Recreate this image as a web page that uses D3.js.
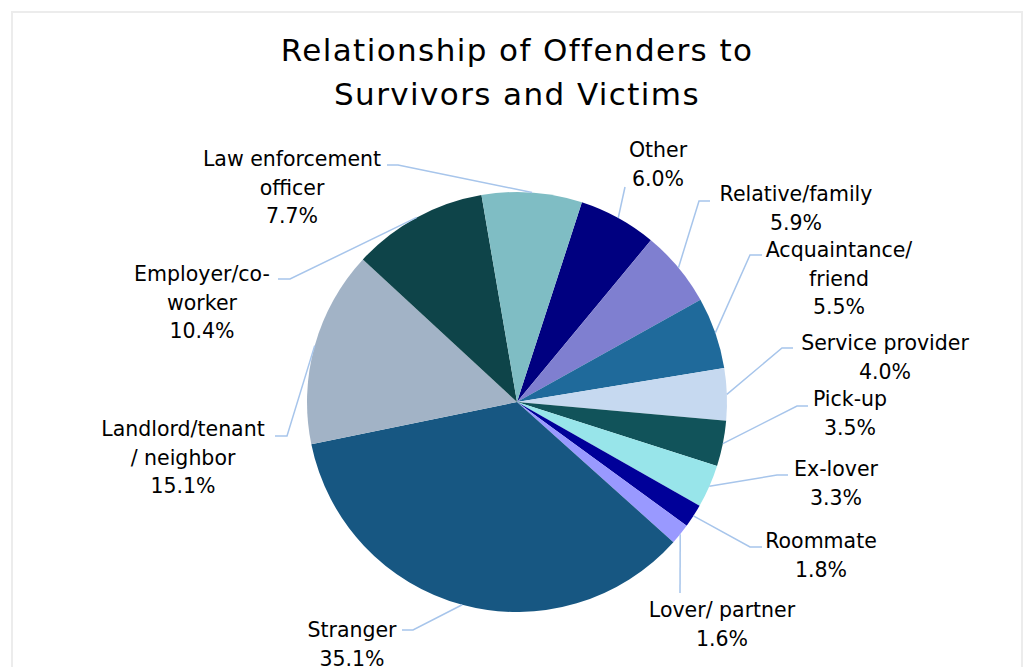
<!DOCTYPE html>
<html>
<head>
<meta charset="utf-8">
<script src="https://cdn.jsdelivr.net/npm/d3@7"></script>
<style>
  html, body { margin: 0; padding: 0; background: #fff; }
  svg { display: block; }
  .title { font-family: "DejaVu Sans", sans-serif; font-size: 31px; letter-spacing: 1.4px; fill: #000; }
  .lbl { font-family: "DejaVu Sans", sans-serif; font-size: 20.5px; fill: #000; }
</style>
</head>
<body>
<svg id="chart"></svg>
<script>
const categories = ["Other", "Relative/family", "Acquaintance/ friend", "Service provider", "Pick-up", "Ex-lover",
  "Roommate", "Lover/ partner", "Stranger", "Landlord/tenant / neighbor", "Employer/co-worker", "Law enforcement officer"];
const values = [6.0, 5.9, 5.5, 4.0, 3.5, 3.3, 1.8, 1.6, 35.1, 15.1, 10.4, 7.7];
const labelLines = [["Other"], ["Relative/family"], ["Acquaintance/", "friend"], ["Service provider"], ["Pick-up"], ["Ex-lover"],
  ["Roommate"], ["Lover/ partner"], ["Stranger"], ["Landlord/tenant", "/ neighbor"], ["Employer/co-", "worker"], ["Law enforcement", "officer"]];
const colors = ["#000080", "#7F7FD0", "#1F6A9B", "#C6D9F0", "#11535A", "#98E5EA",
  "#000099", "#9999FF", "#175782", "#A2B3C6", "#0E4449", "#7FBDC4"];

// label layout: center x, first baseline y
const labelPos = [[658, 157], [796, 201], [839, 257], [885, 350], [850, 406], [836, 476],
  [821, 548], [722, 617], [352, 637], [183, 436], [202, 281], [292, 166]];
// leader line points on the label side, before it runs to the slice
const leaderPts = [
  [[625, 187]],
  [[710, 201], [699, 201]],
  [[762, 255], [750, 255]],
  [[793, 348], [782, 348]],
  [[808, 406], [797, 406]],
  [[788, 475], [777, 475]],
  [[762, 547], [750, 547]],
  [[680, 593]],
  [[402, 630], [413, 630]],
  [[275, 436], [287, 436]],
  [[278, 279], [290, 279]],
  [[387, 165], [398, 165]]
];

const width = 1026, height = 667;
const cx = 517, cy = 402, radius = 210;
const lineGap = 28.5;
const startDeg = 18;

const svg = d3.select("#chart").attr("width", width).attr("height", height);

// chart frame
svg.append("rect")
  .attr("x", 12).attr("y", 12)
  .attr("width", 1010).attr("height", 700)
  .attr("fill", "none")
  .attr("stroke", "#ECECEC")
  .attr("stroke-width", 2);

// title
svg.append("text").attr("class", "title")
  .attr("x", cx).attr("y", 61).attr("text-anchor", "middle")
  .text("Relationship of Offenders to");
svg.append("text").attr("class", "title")
  .attr("x", cx).attr("y", 105).attr("text-anchor", "middle")
  .text("Survivors and Victims");

const data = categories.map((c, i) => ({ name: c, value: values[i], lines: labelLines[i], color: colors[i], i }));

const start = startDeg * Math.PI / 180;
const pie = d3.pie().sort(null).value(d => d.value)
  .startAngle(start).endAngle(start + 2 * Math.PI);
const arcs = pie(data);

const arc = d3.arc().innerRadius(0).outerRadius(radius);

const g = svg.append("g").attr("transform", `translate(${cx},${cy})`);
g.selectAll("path.slice")
  .data(arcs)
  .enter()
  .append("path")
    .attr("class", "slice")
    .attr("d", arc)
    .attr("fill", d => d.data.color);

// leader lines
const line = d3.line();
svg.selectAll("path.leader")
  .data(arcs)
  .enter()
  .append("path")
    .attr("class", "leader")
    .attr("d", d => {
      const mid = (d.startAngle + d.endAngle) / 2;
      const edge = [cx + radius * Math.sin(mid), cy - radius * Math.cos(mid)];
      return line(leaderPts[d.data.i].concat([edge]));
    })
    .attr("fill", "none")
    .attr("stroke", "#A7C5EB")
    .attr("stroke-width", 1.5);

// labels
const fmt = d3.format(".1f");
const labels = svg.selectAll("text.lbl")
  .data(arcs)
  .enter()
  .append("text")
    .attr("class", "lbl")
    .attr("text-anchor", "middle")
    .attr("x", d => labelPos[d.data.i][0])
    .attr("y", d => labelPos[d.data.i][1]);

labels.each(function(d) {
  const t = d3.select(this);
  const x = labelPos[d.data.i][0];
  const rows = d.data.lines.concat([fmt(d.data.value) + "%"]);
  rows.forEach((r, k) => {
    t.append("tspan").attr("x", x).attr("dy", k === 0 ? 0 : lineGap).text(r);
  });
});
</script>
</body>
</html>
